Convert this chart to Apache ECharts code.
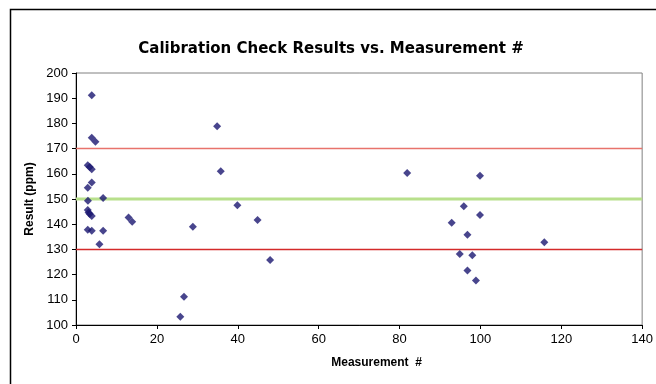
<!DOCTYPE html>
<html><head><meta charset="utf-8">
<script src="https://cdn.jsdelivr.net/npm/echarts@6/dist/echarts.min.js"></script>
<style>html,body{margin:0;padding:0;background:#fff}#c{width:656px;height:384px}</style>
</head><body><div id="c"></div>
<script>
const measurementNo = [3.9,3.9,4.8,2.9,3.4,3.9,3.9,2.9,2.95,6.7,2.9,3.1,3.4,3.9,13.0,13.9,2.9,3.9,6.7,5.8,
  34.9,35.8,39.9,44.9,28.9,48.0,26.7,25.8,
  81.9,99.9,95.9,99.9,92.9,96.8,115.8,94.9,98.0,96.8,98.9];
const resultPpm = [191.2,174.3,172.7,163.4,162.7,161.8,156.5,154.5,149.3,150.4,145.6,144.6,144.0,143.3,142.7,141.0,137.8,137.4,137.4,132.0,
  178.9,161.0,147.5,141.7,139.0,125.8,111.2,103.3,
  160.3,159.2,147.1,143.7,140.6,135.8,132.8,128.2,127.7,121.6,117.7];
const upperLimit = 170, target = 150, lowerLimit = 130;
const xMin = 0, xMax = 140, xStep = 20;
const yMin = 100, yMax = 200, yStep = 10;

const pts = measurementNo.map((x, i) => [x, resultPpm[i]]);
const hline = (v) => [[xMin, v], [xMax, v]];
const font = 'Liberation Sans, Arial, sans-serif';

const chart = echarts.init(document.getElementById('c'), null, {renderer: 'canvas'});
chart.setOption({
  animation: false,
  backgroundColor: '#fff',
  title: {
    text: 'Calibration Check Results vs. Measurement #',
    left: 326, top: 37, textAlign: 'center',
    textStyle: {fontFamily: 'DejaVu Sans', fontSize: 15, fontWeight: 'bold', color: '#000'}
  },
  graphic: [
    {type: 'rect', shape: {x: 10.5, y: 9.5, width: 700, height: 400}, style: {fill: 'none', stroke: '#000', lineWidth: 1.5}, silent: true}
  ],
  grid: {left: 76, right: 11, top: 73, bottom: 59, show: true, borderColor: '#808080', borderWidth: 1, backgroundColor: 'transparent'},
  xAxis: {
    type: 'value', min: xMin, max: xMax, interval: xStep,
    name: 'Measurement  #', nameLocation: 'middle', nameGap: 32,
    nameTextStyle: {fontFamily: font, fontSize: 12, fontWeight: 'bold', color: '#000', padding: [0, 0, 0, 35]},
    axisLine: {lineStyle: {color: '#000', width: 1}},
    axisTick: {inside: false, length: 4, lineStyle: {color: '#000'}},
    axisLabel: {fontFamily: font, fontSize: 13, color: '#000', margin: 8},
    splitLine: {show: false}
  },
  yAxis: {
    type: 'value', min: yMin, max: yMax, interval: yStep,
    name: 'Result (ppm)', nameLocation: 'middle', nameGap: 37,
    nameTextStyle: {fontFamily: font, fontSize: 12, fontWeight: 'bold', color: '#000'},
    axisLine: {show: true, lineStyle: {color: '#000', width: 1}},
    axisTick: {show: true, length: 4, lineStyle: {color: '#000'}},
    axisLabel: {fontFamily: font, fontSize: 13, color: '#000', margin: 8},
    splitLine: {show: false}
  },
  series: [
    {type: 'line', data: hline(target), symbol: 'none', lineStyle: {color: '#b8e08c', width: 3}, silent: true, z: 1},
    {type: 'line', data: hline(upperLimit), symbol: 'none', lineStyle: {color: '#e8736c', width: 1.5}, silent: true, z: 1},
    {type: 'line', data: hline(lowerLimit), symbol: 'none', lineStyle: {color: '#d42a2a', width: 1.5}, silent: true, z: 1},
    {type: 'scatter', data: pts, symbol: 'diamond', symbolSize: 8, itemStyle: {color: '#1a1670'}, z: 3}
  ]
});
</script></body></html>
